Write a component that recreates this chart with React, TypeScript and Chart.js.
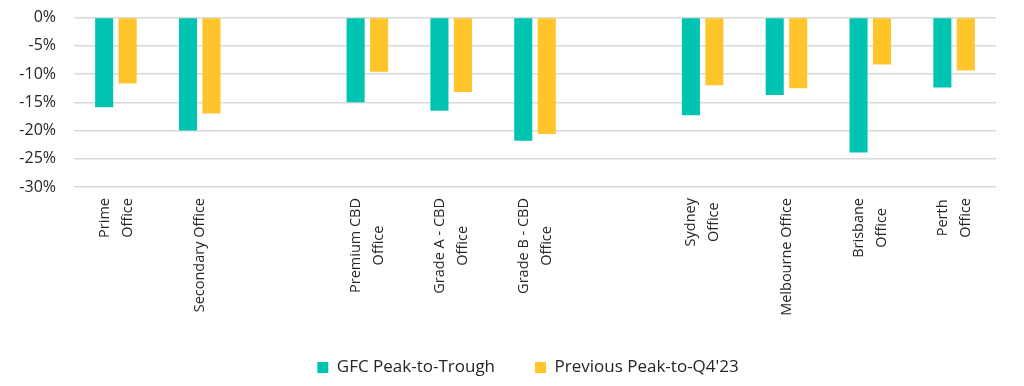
import React, { useEffect, useRef } from "react";
import { Chart, registerables } from "chart.js";

Chart.register(...registerables);

const categories: string[][] = [
  ["Prime", "Office"],
  ["Secondary Office"],
  [""],
  ["Premium CBD", "Office"],
  ["Grade A - CBD", "Office"],
  ["Grade B - CBD", "Office"],
  [""],
  ["Sydney", "Office"],
  ["Melbourne Office"],
  ["Brisbane", "Office"],
  ["Perth", "Office"],
];

const gfcPeakToTrough: (number | null)[] = [-15.9, -20.0, null, -15.0, -16.5, -21.8, null, -17.3, -13.7, -23.9, -12.4];
const prevPeakToQ423: (number | null)[] = [-11.7, -17.0, null, -9.6, -13.2, -20.6, null, -12.0, -12.5, -8.3, -9.4];

const seriesNames = ["GFC Peak-to-Trough", "Previous Peak-to-Q4'23"];
const yTicks = [0, -5, -10, -15, -20, -25, -30];

const TEAL = "#00C4B2";
const YELLOW = "#FFC52B";
const TEXT = "#262626";
const FONT = "'Open Sans', sans-serif";

const xLabelPlugin = {
  id: "xLabelPlugin",
  afterLayout(chart: any) {
    const lg = chart.legend;
    if (lg) {
      lg.left += 26;
      lg.right += 26;
    }
  },
  afterDraw(chart: any) {
    const { ctx, scales } = chart;
    const xs = scales.x;
    const top = chart.chartArea.bottom + 11;
    const pitch = 23;
    ctx.save();
    ctx.font = "14.5px " + FONT;
    ctx.fillStyle = TEXT;
    ctx.textAlign = "center";
    ctx.textBaseline = "middle";
    (chart.data.labels as string[][]).forEach((lines, i) => {
      const x = xs.getPixelForValue(i);
      const widths = lines.map((l) => ctx.measureText(l).width);
      const maxW = Math.max(...widths);
      ctx.save();
      ctx.translate(x, top);
      ctx.rotate(-Math.PI / 2);
      lines.forEach((l, j) => {
        ctx.fillText(l, -maxW / 2, (j - (lines.length - 1) / 2) * pitch);
      });
      ctx.restore();
    });
    ctx.restore();
  },
};

export default function App() {
  const ref = useRef<HTMLCanvasElement | null>(null);
  useEffect(() => {
    if (!ref.current) return;
    const chart = new Chart(ref.current, {
      type: "bar",
      data: {
        labels: categories as any,
        datasets: [
          {
            label: seriesNames[0],
            data: gfcPeakToTrough,
            backgroundColor: TEAL,
            categoryPercentage: 0.56,
            barPercentage: 0.77,
          },
          {
            label: seriesNames[1],
            data: prevPeakToQ423,
            backgroundColor: YELLOW,
            categoryPercentage: 0.56,
            barPercentage: 0.77,
          },
        ],
      },
      options: {
        animation: false,
        responsive: true,
        maintainAspectRatio: false,
        layout: { padding: { top: 17.5, left: 8, right: 28, bottom: 0 } },
        plugins: {
          tooltip: { enabled: false },
          legend: {
            position: "bottom",
            labels: {
              boxWidth: 11,
              boxHeight: 11,
              padding: 40,
              color: TEXT,
              font: { family: FONT, size: 17 },
            },
          },
        },
        scales: {
          x: {
            grid: { display: false },
            border: { display: false },
            ticks: { display: false },
            afterFit: (s: any) => {
              s.height = 132;
            },
          },
          y: {
            min: -30,
            max: 0,
            afterBuildTicks: (s: any) => {
              s.ticks = yTicks.map((v) => ({ value: v }));
            },
            grid: { color: "#d9d9d9", lineWidth: 1.5, drawTicks: false },
            border: { display: false },
            ticks: {
              padding: 18,
              color: TEXT,
              font: { family: FONT, size: 16 },
              callback: (v: any) => v + "%",
            },
            afterFit: (s: any) => {
              s.width = 66;
              s.paddingTop = 0;
              s.paddingBottom = 0;
            },
          },
        },
      },
      plugins: [xLabelPlugin],
    });
    return () => chart.destroy();
  }, []);
  return (
    <div style={{ position: "absolute", left: 0, top: 0, width: 1024, height: 386 }}>
      <canvas ref={ref} />
    </div>
  );
}
